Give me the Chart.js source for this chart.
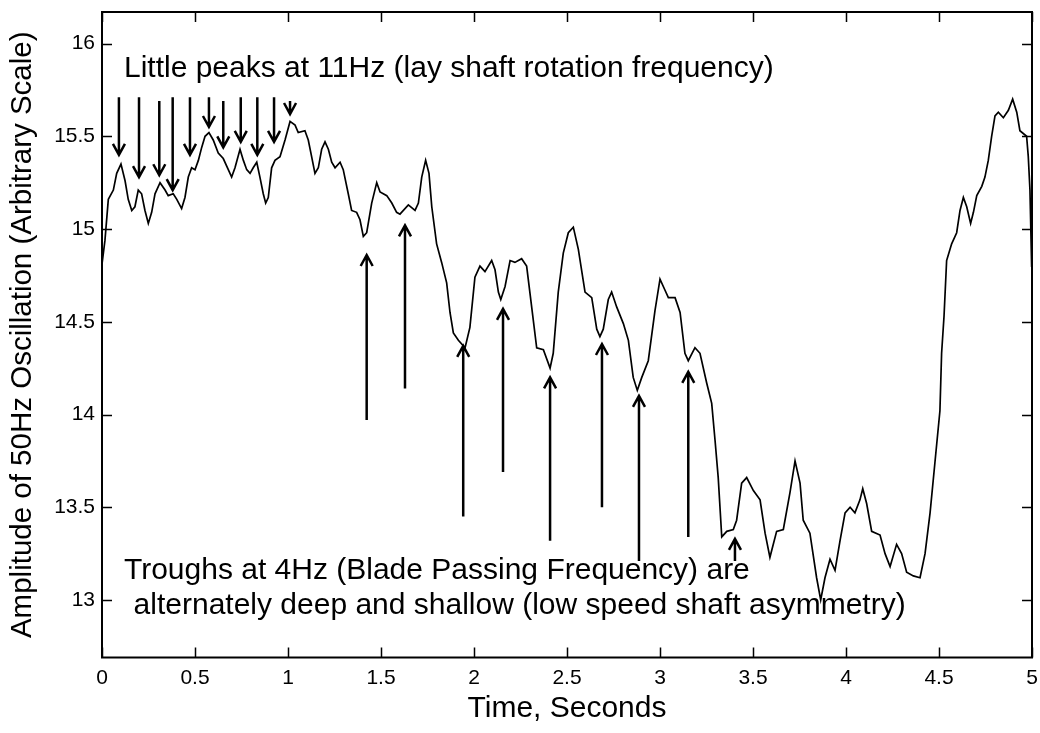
<!DOCTYPE html>
<html><head><meta charset="utf-8">
<script src="https://cdn.jsdelivr.net/npm/chart.js@4.4.1/dist/chart.umd.min.js"></script>
<style>html,body{margin:0;padding:0;background:#fff;}#wrap{width:1040px;height:733px;}</style>
</head><body><div id="wrap"><canvas id="c" width="1040" height="733"></canvas></div>
<script>
const timeSec = [0, 0.016, 0.034, 0.061, 0.079, 0.102, 0.124, 0.141, 0.160, 0.177,
 0.195, 0.213, 0.231, 0.249, 0.267, 0.285, 0.312, 0.339, 0.356, 0.383,
 0.402, 0.428, 0.446, 0.464, 0.482, 0.500, 0.518, 0.536, 0.554, 0.575,
 0.598, 0.625, 0.652, 0.679, 0.697, 0.715, 0.742, 0.760, 0.778, 0.796,
 0.813, 0.832, 0.849, 0.867, 0.880, 0.894, 0.912, 0.930, 0.957, 0.984,
 1.011, 1.038, 1.055, 1.091, 1.109, 1.127, 1.145, 1.163, 1.181, 1.199,
 1.217, 1.235, 1.253, 1.280, 1.297, 1.324, 1.342, 1.369, 1.387, 1.405,
 1.423, 1.450, 1.477, 1.495, 1.531, 1.558, 1.584, 1.602, 1.647, 1.683,
 1.701, 1.719, 1.740, 1.758, 1.773, 1.799, 1.826, 1.853, 1.871, 1.889,
 1.916, 1.952, 1.978, 2.005, 2.032, 2.059, 2.095, 2.113, 2.131, 2.144,
 2.167, 2.194, 2.220, 2.256, 2.283, 2.310, 2.337, 2.373, 2.409, 2.426,
 2.453, 2.480, 2.507, 2.534, 2.561, 2.597, 2.633, 2.660, 2.677, 2.695,
 2.722, 2.740, 2.767, 2.803, 2.830, 2.856, 2.878, 2.902, 2.937, 2.973,
 3.000, 3.027, 3.045, 3.081, 3.108, 3.134, 3.152, 3.188, 3.215, 3.251,
 3.278, 3.296, 3.313, 3.332, 3.359, 3.394, 3.412, 3.439, 3.466, 3.502,
 3.538, 3.565, 3.591, 3.627, 3.663, 3.699, 3.726, 3.753, 3.770, 3.806,
 3.842, 3.864, 3.887, 3.914, 3.941, 3.968, 3.995, 4.022, 4.048, 4.075,
 4.090, 4.111, 4.138, 4.183, 4.210, 4.237, 4.272, 4.299, 4.326, 4.362,
 4.398, 4.425, 4.452, 4.478, 4.505, 4.514, 4.527, 4.541, 4.568, 4.595,
 4.613, 4.631, 4.649, 4.670, 4.685, 4.703, 4.730, 4.747, 4.765, 4.783,
 4.801, 4.819, 4.846, 4.873, 4.896, 4.918, 4.935, 4.971, 4.980, 4.989,
 4.998, 5.000];
const amplitude = [14.81, 14.94, 15.16, 15.21, 15.30, 15.35, 15.26, 15.16, 15.10, 15.12,
 15.21, 15.19, 15.10, 15.03, 15.09, 15.19, 15.25, 15.21, 15.18, 15.19,
 15.16, 15.11, 15.17, 15.28, 15.33, 15.32, 15.37, 15.44, 15.50, 15.52,
 15.48, 15.41, 15.38, 15.32, 15.28, 15.33, 15.43, 15.37, 15.32, 15.30,
 15.33, 15.36, 15.28, 15.19, 15.14, 15.17, 15.33, 15.37, 15.39, 15.48,
 15.58, 15.56, 15.52, 15.53, 15.48, 15.39, 15.30, 15.33, 15.43, 15.47,
 15.43, 15.36, 15.33, 15.36, 15.32, 15.19, 15.10, 15.09, 15.05, 14.96,
 14.98, 15.14, 15.25, 15.20, 15.18, 15.14, 15.09, 15.08, 15.13, 15.10,
 15.14, 15.28, 15.37, 15.30, 15.12, 14.92, 14.82, 14.71, 14.55, 14.44,
 14.40, 14.36, 14.47, 14.74, 14.80, 14.77, 14.83, 14.78, 14.66, 14.62,
 14.69, 14.83, 14.82, 14.84, 14.80, 14.58, 14.36, 14.35, 14.25, 14.33,
 14.66, 14.87, 14.98, 15.01, 14.89, 14.66, 14.63, 14.46, 14.42, 14.46,
 14.62, 14.66, 14.58, 14.49, 14.40, 14.20, 14.13, 14.20, 14.29, 14.56,
 14.73, 14.67, 14.63, 14.63, 14.55, 14.33, 14.29, 14.36, 14.33, 14.17,
 14.06, 13.86, 13.66, 13.34, 13.37, 13.38, 13.43, 13.63, 13.66, 13.59,
 13.54, 13.36, 13.23, 13.37, 13.38, 13.58, 13.75, 13.63, 13.43, 13.36,
 13.12, 13.00, 13.12, 13.22, 13.16, 13.32, 13.47, 13.50, 13.47, 13.54,
 13.60, 13.52, 13.37, 13.35, 13.25, 13.18, 13.30, 13.25, 13.15, 13.13,
 13.12, 13.25, 13.47, 13.74, 14.02, 14.33, 14.53, 14.83, 14.92, 14.98,
 15.10, 15.17, 15.12, 15.03, 15.09, 15.18, 15.23, 15.28, 15.37, 15.50,
 15.61, 15.63, 15.60, 15.64, 15.70, 15.63, 15.53, 15.50, 15.39, 15.21,
 14.80, 14.80];
const xTickValues = [0, 0.5, 1, 1.5, 2, 2.5, 3, 3.5, 4, 4.5, 5];
const yTickValues = [13, 13.5, 14, 14.5, 15, 15.5, 16];

// Down arrows pointing at the 11 Hz peaks (x, tail y, tip y)
const peakArrowX    = [0.091, 0.199, 0.308, 0.380, 0.473, 0.575, 0.652, 0.746, 0.835, 0.925, 1.011];
const peakArrowFrom = [15.71, 15.71, 15.69, 15.71, 15.71, 15.71, 15.69, 15.71, 15.71, 15.71, 15.69];
const peakArrowTo   = [15.40, 15.28, 15.29, 15.21, 15.40, 15.55, 15.44, 15.47, 15.40, 15.47, 15.62];
// Up arrows pointing at the 4 Hz troughs
const troughArrowX    = [1.423, 1.629, 1.942, 2.156, 2.409, 2.688, 2.887, 3.152, 3.403];
const troughArrowFrom = [13.97, 14.14, 13.45, 13.69, 13.32, 13.50, 13.21, 13.34, 13.21];
const troughArrowTo   = [14.86, 15.02, 14.37, 14.57, 14.20, 14.38, 14.10, 14.23, 13.33];

const noteTop = "Little peaks at 11Hz (lay shaft rotation frequency)";
const noteBottom1 = "Troughs at 4Hz (Blade Passing Frequency) are";
const noteBottom2 = " alternately deep and shallow (low speed shaft asymmetry)";

const FONT = "'Liberation Sans', Arial, Helvetica, sans-serif";
Chart.defaults.font.family = FONT;
Chart.defaults.color = '#000';

function drawArrow(ctx, x, y1, y2) {
  const dir = y2 > y1 ? 1 : -1;
  ctx.beginPath();
  ctx.moveTo(x, y1);
  ctx.lineTo(x, y2);
  ctx.moveTo(x - 6, y2 - dir * 11);
  ctx.lineTo(x, y2);
  ctx.lineTo(x + 6, y2 - dir * 11);
  ctx.stroke();
}

function zeroPad(s) { s.paddingLeft = 0; s.paddingRight = 0; s.paddingTop = 0; s.paddingBottom = 0; }

const decorPlugin = {
  id: 'decor',
  afterDraw(chart) {
    const ctx = chart.ctx;
    const xs = chart.scales.x, ys = chart.scales.y;
    const a = chart.chartArea;
    ctx.save();
    ctx.strokeStyle = '#000';
    ctx.lineCap = 'butt';
    ctx.lineWidth = 2;
    ctx.strokeRect(a.left, a.top, a.right - a.left, a.bottom - a.top);
    ctx.lineWidth = 1.5;
    const tl = 10;
    ctx.beginPath();
    xTickValues.forEach(v => {
      const px = Math.round(xs.getPixelForValue(v)) + 0.5;
      ctx.moveTo(px, a.bottom); ctx.lineTo(px, a.bottom - tl);
      ctx.moveTo(px, a.top); ctx.lineTo(px, a.top + tl);
    });
    yTickValues.forEach(v => {
      const py = Math.round(ys.getPixelForValue(v)) + 0.5;
      ctx.moveTo(a.left, py); ctx.lineTo(a.left + tl, py);
      ctx.moveTo(a.right, py); ctx.lineTo(a.right - tl, py);
    });
    ctx.stroke();
    ctx.lineWidth = 2.5;
    ctx.lineJoin = 'miter';
    peakArrowX.forEach((x, i) => {
      drawArrow(ctx, xs.getPixelForValue(x), ys.getPixelForValue(peakArrowFrom[i]), ys.getPixelForValue(peakArrowTo[i]));
    });
    troughArrowX.forEach((x, i) => {
      drawArrow(ctx, xs.getPixelForValue(x), ys.getPixelForValue(troughArrowFrom[i]), ys.getPixelForValue(troughArrowTo[i]));
    });
    ctx.fillStyle = '#000';
    ctx.font = '30px ' + FONT;
    ctx.textAlign = 'left';
    ctx.textBaseline = 'alphabetic';
    ctx.fillText(noteTop, xs.getPixelForValue(0.118), ys.getPixelForValue(15.822));
    ctx.fillText(noteBottom1, xs.getPixelForValue(0.118), ys.getPixelForValue(13.115));
    ctx.fillText(noteBottom2, xs.getPixelForValue(0.125), ys.getPixelForValue(12.925));
    ctx.restore();
  }
};

new Chart(document.getElementById('c'), {
  type: 'scatter',
  data: {
    datasets: [{
      data: timeSec.map((t, i) => ({x: t, y: amplitude[i]})),
      showLine: true,
      borderColor: '#000',
      borderWidth: 1.7,
      pointRadius: 0,
      tension: 0,
      fill: false
    }]
  },
  options: {
    responsive: false,
    animation: false,
    layout: {padding: {top: 12, right: 8, left: 0, bottom: 0}},
    plugins: {legend: {display: false}, tooltip: {enabled: false}},
    scales: {
      x: {
        type: 'linear', min: 0, max: 5,
        afterBuildTicks: s => { s.ticks = xTickValues.map(v => ({value: v})); },
        afterFit: s => { s.height = 75.5; zeroPad(s); },
        grid: {display: false, drawTicks: false},
        border: {display: false},
        ticks: {padding: 8, color: '#000', font: {size: 21}, maxRotation: 0, autoSkip: false, callback: v => String(v)},
        title: {display: true, text: 'Time, Seconds', color: '#000', font: {size: 30}, padding: {top: 0, bottom: 6}}
      },
      y: {
        type: 'linear', min: 12.69, max: 16.17,
        afterBuildTicks: s => { s.ticks = yTickValues.map(v => ({value: v})); },
        afterFit: s => { s.width = 102; zeroPad(s); },
        grid: {display: false, drawTicks: false},
        border: {display: false},
        ticks: {padding: 7, color: '#000', font: {size: 21}, autoSkip: false, callback: v => String(v)},
        title: {display: true, text: 'Amplitude of 50Hz Oscillation (Arbitrary Scale)', color: '#000', font: {size: 29.5}, padding: {top: 5, bottom: 0}}
      }
    }
  },
  plugins: [decorPlugin]
});
</script>
</body></html>
